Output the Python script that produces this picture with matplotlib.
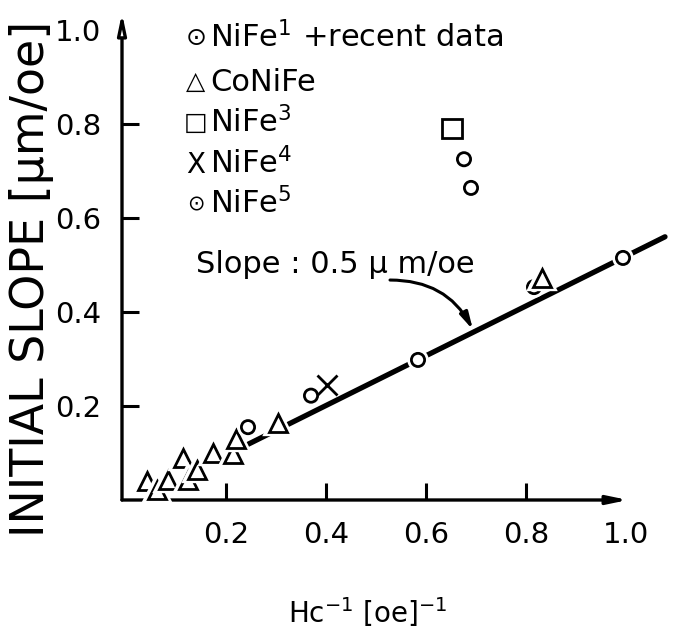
import matplotlib
matplotlib.use("Agg")
import matplotlib.pyplot as plt
import matplotlib.patheffects as pe

plt.rcParams['font.family'] = ['DejaVu Sans']
plt.rcParams['mathtext.default'] = 'regular'

# ---- data ----
nife1_x = [0.244, 0.370, 0.584, 0.994, 0.676, 0.690]
nife1_y = [0.155, 0.222, 0.298, 0.515, 0.725, 0.664]
conife_x = [0.042, 0.062, 0.084, 0.114, 0.124, 0.142, 0.174, 0.214, 0.220, 0.304, 0.832]
conife_y = [0.041, 0.021, 0.042, 0.089, 0.043, 0.064, 0.100, 0.097, 0.130, 0.164, 0.472]
nife3_x = [0.652]
nife3_y = [0.790]
nife4_x = [0.402]
nife4_y = [0.244]
nife5_x = [0.816]
nife5_y = [0.453]
fit_x = [0.228, 1.078]
fit_y = [0.110, 0.560]

xticks = [0.2, 0.4, 0.6, 0.8, 1.0]
xticklabels = ['0.2', '0.4', '0.6', '0.8', '1.0']
yticks = [0.2, 0.4, 0.6, 0.8, 1.0]
yticklabels = ['0.2', '0.4', '0.6', '0.8', '1.0']

legend_labels = [r'NiFe$^{1}$ +recent data', 'CoNiFe', r'NiFe$^{3}$', r'NiFe$^{4}$', r'NiFe$^{5}$']
legend_syms = ['⊙', '△', '□', 'X', '⊙']
legend_sym_sizes = [18, 18, 18, 20, 15]

W, H = 681, 643
fig = plt.figure(figsize=(W / 100, H / 100), dpi=100)
ax = fig.add_axes([122 / W, 143 / H, (W - 122) / W, 500 / H])
ax.set_xlim(-0.008, 1.11)
ax.set_ylim(0, 1.0638)
for s in ax.spines.values():
    s.set_visible(False)

# axes drawn as arrows
ax.annotate('', xy=(1.004, 0), xytext=(-0.008, 0),
            arrowprops=dict(arrowstyle='-|>,head_length=1.2,head_width=0.25', lw=2.4,
                            edgecolor='black', facecolor='black', shrinkA=0, shrinkB=0))
ax.annotate('', xy=(-0.008, 1.036), xytext=(-0.008, 0),
            arrowprops=dict(arrowstyle='-|>,head_length=1.2,head_width=0.25', lw=2.4,
                            edgecolor='black', facecolor='white', shrinkA=0, shrinkB=0))

ax.set_xticks(xticks)
ax.set_xticklabels(xticklabels)
ax.set_yticks(yticks)
ax.set_yticklabels(yticklabels)
ax.tick_params(direction='in', length=12, width=2.2, labelsize=21)
ax.tick_params(axis='x', pad=15)
ax.tick_params(axis='y', pad=15)
ax.xaxis.get_major_ticks()[-1].tick1line.set_visible(False)
ax.yaxis.get_major_ticks()[-1].tick1line.set_visible(False)

# fit line
ax.plot(fit_x, fit_y, color='black', lw=3.8, solid_capstyle='round', clip_on=False, zorder=2)

halo = [pe.withStroke(linewidth=6, foreground='white')]
kw = dict(ls='none', mfc='white', mec='black', mew=2.0, clip_on=False, path_effects=halo)
ax.plot(nife5_x, nife5_y, marker='o', ms=9.5, zorder=3, **kw)
ax.plot(nife5_x, nife5_y, ls='none', marker='.', ms=4, color='black', zorder=3.1)
ax.plot(conife_x, conife_y, marker='^', ms=13, zorder=3.2, **kw)
ax.plot(nife1_x, nife1_y, marker='o', ms=9.5, zorder=3.3, **kw)
ax.plot(nife3_x, nife3_y, marker='s', ms=14, zorder=3.3, **kw)
ax.plot(nife4_x, nife4_y, ls='none', marker='x', ms=15, mec='black', mew=2.0, zorder=3.3)

# legend written as lettering
leg_y = [0.964, 0.871, 0.783, 0.694, 0.609]
for sym, fs, lab, yy in zip(legend_syms, legend_sym_sizes, legend_labels, leg_y):
    ax.text(0.14, yy + 0.019, sym, fontsize=fs, ha='center', va='center')
    ax.text(0.168, yy, lab, fontsize=22, ha='left', va='baseline')

# slope annotation
ax.text(0.14, 0.483, 'Slope : 0.5 µ m/oe', fontsize=22, ha='left', va='baseline')
ax.annotate('', xy=(0.694, 0.362), xytext=(0.528, 0.468),
            arrowprops=dict(arrowstyle='-|>,head_length=1.0,head_width=0.25', lw=2.2,
                            color='black', connectionstyle='arc3,rad=-0.3',
                            shrinkA=0, shrinkB=0))

ax.set_ylabel('INITIAL SLOPE [µm/oe]', fontsize=33)
ax.yaxis.set_label_coords(-0.122, 0.442)
ax.set_xlabel(r'Hc$^{-1}$ [oe]$^{-1}$', fontsize=20)
ax.xaxis.set_label_coords(0.44, -0.19)

fig.savefig('out.png', dpi=100)
